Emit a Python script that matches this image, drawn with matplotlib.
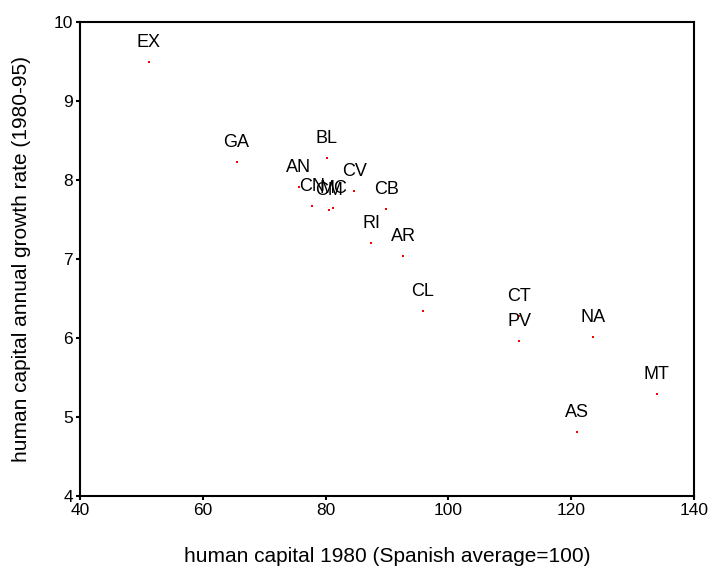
import matplotlib
matplotlib.use("Agg")
import matplotlib.pyplot as plt

# region codes and values
regions = ["EX", "GA", "BL", "AN", "CV", "CN", "CM", "MC", "CB", "RI",
           "AR", "CL", "CT", "PV", "NA", "MT", "AS"]
hc_1980 = [51.2, 65.5, 80.2, 75.6, 84.7, 77.8, 80.5, 81.2, 89.9, 87.4,
           92.6, 95.8, 111.5, 111.5, 123.6, 133.9, 120.9]
growth = [9.50, 8.23, 8.28, 7.92, 7.87, 7.67, 7.62, 7.65, 7.64, 7.21,
          7.04, 6.35, 6.28, 5.97, 6.02, 5.29, 4.81]

x_ticks = [40, 60, 80, 100, 120, 140]
y_ticks = [4, 5, 6, 7, 8, 9, 10]

plt.rcParams['font.family'] = ['Liberation Sans', 'DejaVu Sans']

fig = plt.figure(figsize=(7.13, 5.81), dpi=100)
ax = fig.add_axes([0.1122, 0.1463, 0.8612, 0.815])

ax.scatter(hc_1980, growth, s=3, color='red', marker='s', linewidths=0, zorder=3)

# labels centred above each point (CN/CM/MC overlap as in the original)
for name, x, y in zip(regions, hc_1980, growth):
    ax.annotate(name, (x, y), xytext=(0, 14), textcoords='offset points',
                ha='center', va='center', fontsize=13, color='black')

ax.set_xlim(40, 140)
ax.set_ylim(4, 10)
ax.set_xticks(x_ticks)
ax.set_yticks(y_ticks)
ax.tick_params(direction='out', length=3, width=1.5, labelsize=12.5, pad=2)

for sp in ax.spines.values():
    sp.set_linewidth(1.5)
    sp.set_color('black')

ax.set_xlabel("human capital 1980 (Spanish average=100)", fontsize=15, labelpad=21)
ax.set_ylabel("human capital annual growth rate (1980-95)", fontsize=15, labelpad=16)

fig.savefig("out.png", dpi=100)
